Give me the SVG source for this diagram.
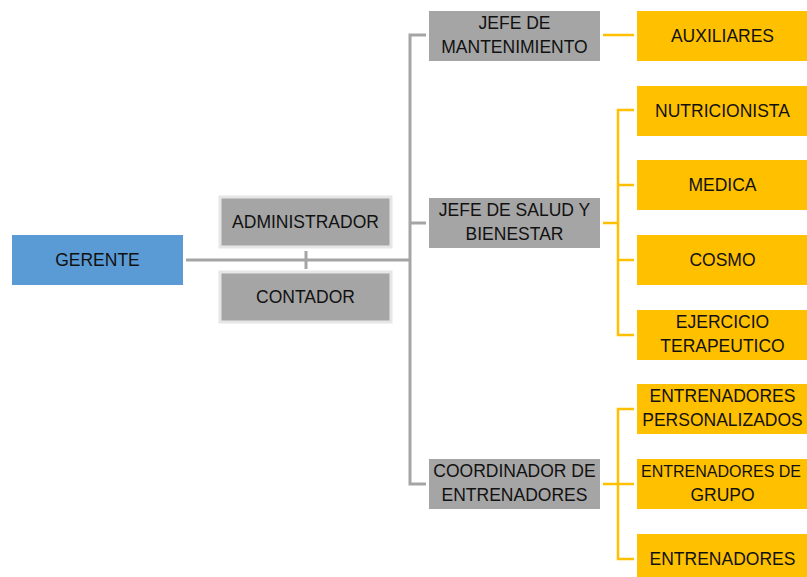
<svg xmlns="http://www.w3.org/2000/svg" width="807" height="577" viewBox="0 0 807 577">
<style>
.g{fill:#A5A5A5}
.b{fill:#5B9BD5}
.y{fill:#FFC000}
.bd{stroke:#E7E6E6;stroke-width:3}
text{font-family:"Liberation Sans",Arial,sans-serif;font-size:17.5px;fill:#111;text-anchor:middle}
.cg{fill:none;stroke:#A5A5A5;stroke-width:3}
.cy{fill:none;stroke:#FFC000;stroke-width:2.5}
</style>
<rect width="807" height="577" fill="#fff"/>
<g id="connectors">
<path class="cg" d="M186 260H410M306 251V269M426 35H410V484H426M410 223H426"/>
<path class="cy" d="M603 35H634M603 223H618M634 110H618V335H634M618 185H634M618 260H634M603 484H618M634 409H618V559H634M618 484H634"/>
</g>
<g id="gerente"><rect class="b" x="12" y="235" width="171" height="50"/><text x="97.5" y="266.3">GERENTE</text></g>
<g id="administrador"><rect class="g bd" x="220" y="197" width="171" height="50"/><text x="305.5" y="228.3">ADMINISTRADOR</text></g>
<g id="contador"><rect class="g bd" x="220" y="272" width="171" height="50"/><text x="305.5" y="303.3">CONTADOR</text></g>
<g id="jefe-mantenimiento"><rect class="g" x="429" y="11" width="171" height="50"/><text x="514.5" y="29.3">JEFE DE</text><text x="514.5" y="53.3">MANTENIMIENTO</text></g>
<g id="jefe-salud"><rect class="g" x="429" y="198" width="171" height="50"/><text x="514.5" y="216.3">JEFE DE SALUD Y</text><text x="514.5" y="240.3">BIENESTAR</text></g>
<g id="coordinador"><rect class="g" x="429" y="459" width="171" height="50"/><text x="514.5" y="477.3">COORDINADOR DE</text><text x="514.5" y="501.3">ENTRENADORES</text></g>
<g id="auxiliares"><rect class="y" x="637" y="11" width="171" height="50"/><text x="722.5" y="42.3">AUXILIARES</text></g>
<g id="nutricionista"><rect class="y" x="637" y="86" width="171" height="50"/><text x="722.5" y="117.3">NUTRICIONISTA</text></g>
<g id="medica"><rect class="y" x="637" y="160" width="171" height="50"/><text x="722.5" y="191.3">MEDICA</text></g>
<g id="cosmo"><rect class="y" x="637" y="235" width="171" height="50"/><text x="722.5" y="266.3">COSMO</text></g>
<g id="ejercicio"><rect class="y" x="637" y="310" width="171" height="50"/><text x="722.5" y="328.3">EJERCICIO</text><text x="722.5" y="352.3">TERAPEUTICO</text></g>
<g id="entrenadores-personalizados"><rect class="y" x="637" y="384" width="171" height="50"/><text x="722.5" y="402.3">ENTRENADORES</text><text x="722.5" y="426.3">PERSONALIZADOS</text></g>
<g id="entrenadores-grupo"><rect class="y" x="637" y="459" width="171" height="50"/><text x="721" y="477.3" style="font-size:16px">ENTRENADORES DE</text><text x="722.5" y="501.3">GRUPO</text></g>
<g id="entrenadores"><rect class="y" x="637" y="534" width="171" height="50"/><text x="722.5" y="565.3">ENTRENADORES</text></g>
</svg>
